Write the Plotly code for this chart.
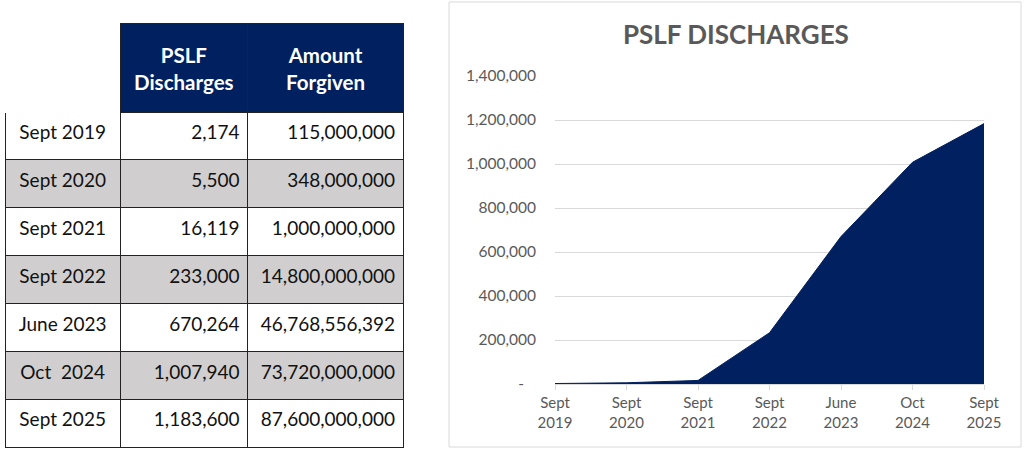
import plotly.graph_objects as go

# data
periods = ["Sept 2019", "Sept 2020", "Sept 2021", "Sept 2022", "June 2023", "Oct\u00a0 2024", "Sept 2025"]
axis_labels = ["Sept<br>2019", "Sept<br>2020", "Sept<br>2021", "Sept<br>2022", "June<br>2023", "Oct<br>2024", "Sept<br>2025"]
discharges = [2174, 5500, 16119, 233000, 670264, 1007940, 1183600]
forgiven = [115000000, 348000000, 1000000000, 14800000000, 46768556392, 73720000000, 87600000000]
header_labels = ["PSLF<br>Discharges", "Amount<br>Forgiven"]
y_ticks = [0, 200000, 400000, 600000, 800000, 1000000, 1200000, 1400000]

NAVY = "#002060"
GRAY_ROW = "#D0CECE"
TEXT_GRAY = "#595959"
FONT = "Lato"

W, H = 1024, 452
TABLE_X = (5, 403)
COL_W = [115, 127, 155]


def cell(txt):
    # plotly tables put text at the top of the cell; empty leading lines
    # move it down towards the middle of the row
    return "<br><br><span style='font-size:19px'>%s</span>" % txt


row_fill = ["white" if i % 2 == 0 else GRAY_ROW for i in range(len(periods))]

fig = go.Figure()

fig.add_trace(go.Table(
    domain=dict(x=[TABLE_X[0] / W, TABLE_X[1] / W], y=[0, 1 - 23 / H]),
    columnwidth=COL_W,
    header=dict(
        values=["", "", ""],
        fill_color=["white", NAVY, NAVY],
        line=dict(color=["white", "#222222", "#222222"], width=1),
        height=89,
    ),
    cells=dict(
        values=[[cell(p) for p in periods],
                [cell("{:,}".format(v)) for v in discharges],
                [cell("{:,}".format(v)) for v in forgiven]],
        fill_color=[row_fill, row_fill, row_fill],
        line=dict(color="#222222", width=1),
        font=dict(family=FONT, size=6, color="#111111"),
        align=["center", "right", "right"],
        height=47.9,
    ),
))

# header labels, centred line by line
annotations = []
left = TABLE_X[0]
scale = (TABLE_X[1] - TABLE_X[0]) / sum(COL_W)
for i, lab in enumerate(header_labels):
    x0 = left + (COL_W[0] + sum(COL_W[1:i + 1])) * scale
    xc = x0 + COL_W[i + 1] * scale / 2
    annotations.append(dict(text="<b>%s</b>" % lab, xref="paper", yref="paper",
                            x=xc / W, y=1 - 68 / H, xanchor="center", yanchor="middle",
                            align="center", showarrow=False,
                            font=dict(family=FONT, size=20.5, color="white")))

annotations.append(dict(text="<b>PSLF DISCHARGES</b>", xref="paper", yref="paper",
                        x=736 / W, y=1 - 34 / H, xanchor="center", yanchor="middle",
                        showarrow=False, font=dict(family=FONT, size=26, color=TEXT_GRAY)))

fig.add_trace(go.Scatter(
    x=axis_labels, y=discharges,
    mode="lines", fill="tozeroy",
    line=dict(color=NAVY, width=1),
    fillcolor=NAVY,
    hoverinfo="x+y",
    showlegend=False,
))

fig.update_layout(
    width=W, height=H,
    margin=dict(l=0, r=0, t=0, b=0),
    paper_bgcolor="white",
    plot_bgcolor="white",
    font=dict(family=FONT, color=TEXT_GRAY),
    showlegend=False,
    shapes=[dict(type="rect", xref="paper", yref="paper",
                 x0=449 / W, x1=1021 / W, y0=5 / H, y1=1 - 2 / H,
                 line=dict(color="#D9D9D9", width=1), layer="below")],
    annotations=annotations,
)

fig.update_xaxes(
    domain=[555 / W, 984 / W],
    type="category",
    range=[0, len(axis_labels) - 1],
    automargin=False,
    showgrid=False,
    showline=True, linecolor="#D9D9D9", linewidth=1,
    ticks="outside", ticklen=5, tickcolor="#D9D9D9",
    tickfont=dict(family=FONT, size=15, color=TEXT_GRAY),
    fixedrange=True,
)
fig.update_yaxes(
    domain=[1 - 384 / H, 1 - 76 / H],
    range=[0, 1400000],
    automargin=False,
    tickvals=y_ticks,
    ticktext=["-\u00a0\u00a0\u00a0" if v == 0 else "{:,}".format(v) for v in y_ticks],
    showgrid=True, gridcolor="#D9D9D9", gridwidth=1,
    zeroline=False,
    ticks="", ticklabelstandoff=18,
    tickfont=dict(family=FONT, size=15.5, color=TEXT_GRAY),
    fixedrange=True,
)

# the page's default body margin would push the figure 8px down and right
fig.write_html("out.html", config={"displayModeBar": False},
               post_script="document.body.style.margin = '0';")
